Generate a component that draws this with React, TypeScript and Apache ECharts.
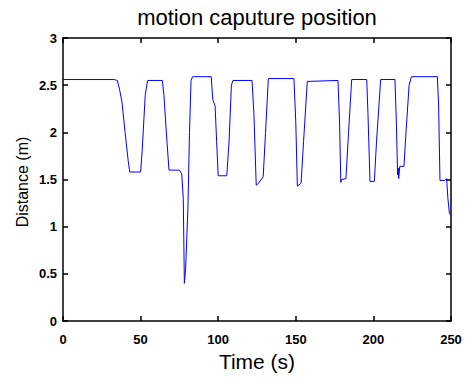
import React, { useEffect, useRef } from "react";
import * as echarts from "echarts";

const titleText = "motion caputure position";
const xName = "Time (s)";
const yName = "Distance (m)";

const timeS = [
  0, 33, 35, 36.5, 38, 40, 42, 43, 50, 51, 53, 54.5, 64, 65, 67, 68.3, 75, 76.5, 77.5, 78.2,
  79, 80.5, 81.5, 82.5, 83.5, 95.5, 96.5, 98, 99, 100, 105.5, 107, 108.5, 109.5, 121.8, 123,
  124.5, 126, 129, 130.5, 132.3, 148.8, 150, 151, 153.4, 155, 157.4, 177.2, 178.2, 179, 179.5,
  182.3, 184, 186, 195.7, 196.5, 197.8, 200.6, 202, 204.7, 213.9, 214.8, 215.6, 216, 216.3,
  217, 219.7, 221, 223, 224.5, 241.2, 242, 242.9, 246, 247.2, 248, 249, 250,
];
const distanceM = [
  2.56, 2.56, 2.55, 2.45, 2.32, 2.0, 1.7, 1.58, 1.58, 1.8, 2.4, 2.55, 2.55, 2.4, 1.9, 1.6, 1.6,
  1.56, 1.3, 0.4, 0.55, 1.2, 2.0, 2.55, 2.59, 2.59, 2.35, 2.28, 1.9, 1.54, 1.54, 1.9, 2.5, 2.55,
  2.55, 2.2, 1.44, 1.46, 1.53, 2.0, 2.57, 2.57, 2.1, 1.43, 1.46, 1.9, 2.54, 2.55, 2.1, 1.47,
  1.5, 1.51, 2.0, 2.56, 2.56, 2.2, 1.48, 1.48, 1.9, 2.56, 2.56, 2.1, 1.55, 1.62, 1.51, 1.64,
  1.64, 2.0, 2.5, 2.59, 2.59, 2.3, 1.49, 1.49, 1.51, 1.3, 1.14, 1.12,
];

export default function App() {
  const ref = useRef<HTMLDivElement>(null);
  useEffect(() => {
    if (!ref.current) return;
    const chart = echarts.init(ref.current, null, { renderer: "svg" });
    const font = "'Liberation Sans', Arial, Helvetica, sans-serif";
    const lineStyle = { color: "#000", width: 1.5 };
    const tick = { show: true, inside: true, length: 5, lineStyle: { color: "#000", width: 1.5 } };
    chart.setOption({
      animation: false,
      backgroundColor: "#fff",
      grid: { left: 63, right: 19, top: 38, bottom: 53, containLabel: false },
      xAxis: [
        {
          type: "value",
          min: 0,
          max: 250,
          interval: 50,
          position: "bottom",
          name: xName,
          nameLocation: "middle",
          nameGap: 26,
          nameTextStyle: { fontFamily: font, fontSize: 21, color: "#000" },
          axisLine: { show: true, onZero: false, lineStyle },
          axisTick: tick,
          splitLine: { show: false },
          axisLabel: { margin: 12, fontFamily: font, fontSize: 13, fontWeight: "bold", color: "#000" },
        },
        {
          type: "value",
          min: 0,
          max: 250,
          interval: 50,
          position: "top",
          axisLine: { show: true, onZero: false, lineStyle },
          axisTick: tick,
          splitLine: { show: false },
          axisLabel: { show: false },
        },
      ],
      yAxis: [
        {
          type: "value",
          min: 0,
          max: 3,
          interval: 0.5,
          position: "left",
          axisLine: { show: true, onZero: false, lineStyle },
          axisTick: tick,
          splitLine: { show: false },
          axisLabel: { margin: 6, fontFamily: font, fontSize: 13, fontWeight: "bold", color: "#000" },
        },
        {
          type: "value",
          min: 0,
          max: 3,
          interval: 0.5,
          position: "right",
          axisLine: { show: true, onZero: false, lineStyle },
          axisTick: tick,
          splitLine: { show: false },
          axisLabel: { show: false },
        },
      ],
      graphic: [
        {
          type: "text",
          x: 257,
          y: 17,
          style: {
            text: titleText,
            fontFamily: font,
            fontSize: 22,
            fill: "#000",
            align: "center",
            verticalAlign: "middle",
          },
        },
        {
          type: "text",
          x: 22,
          y: 182,
          rotation: Math.PI / 2,
          style: {
            text: yName,
            fontFamily: font,
            fontSize: 16,
            fill: "#000",
            align: "center",
            verticalAlign: "middle",
          },
        },
      ],
      series: [
        {
          type: "line",
          xAxisIndex: 0,
          yAxisIndex: 0,
          data: timeS.map((t, i) => [t, distanceM[i]]),
          showSymbol: false,
          symbol: "none",
          lineStyle: { color: "#0000ff", width: 1 },
          itemStyle: { color: "#0000ff" },
        },
      ],
    });
    return () => chart.dispose();
  }, []);
  return <div ref={ref} style={{ width: 470, height: 377, position: "absolute", left: 0, top: 0 }} />;
}
